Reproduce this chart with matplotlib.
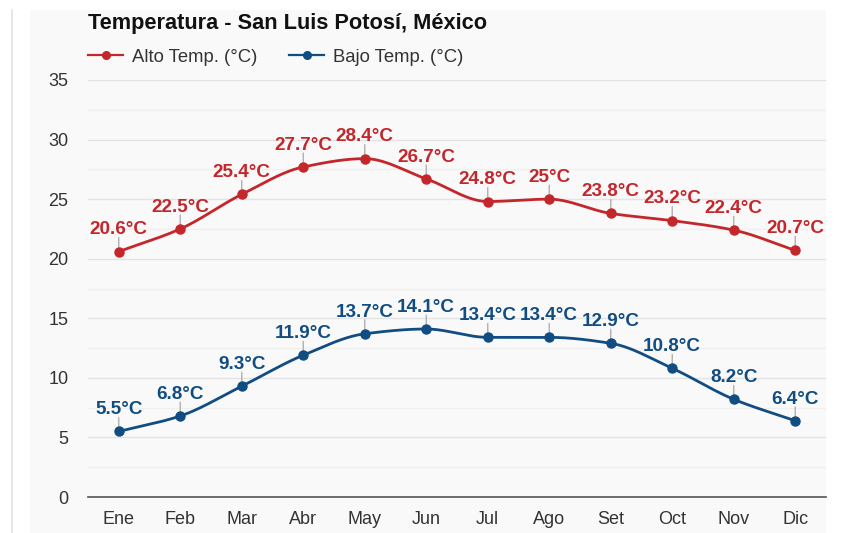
import numpy as np
import matplotlib
matplotlib.use("Agg")
import matplotlib.pyplot as plt
from matplotlib.patches import Rectangle
from matplotlib.lines import Line2D

months = ["Ene", "Feb", "Mar", "Abr", "May", "Jun", "Jul", "Ago", "Set", "Oct", "Nov", "Dic"]
alto = [20.6, 22.5, 25.4, 27.7, 28.4, 26.7, 24.8, 25.0, 23.8, 23.2, 22.4, 20.7]
bajo = [5.5, 6.8, 9.3, 11.9, 13.7, 14.1, 13.4, 13.4, 12.9, 10.8, 8.2, 6.4]
alto_labels = ["20.6°C", "22.5°C", "25.4°C", "27.7°C", "28.4°C", "26.7°C", "24.8°C", "25°C", "23.8°C", "23.2°C", "22.4°C", "20.7°C"]
bajo_labels = ["5.5°C", "6.8°C", "9.3°C", "11.9°C", "13.7°C", "14.1°C", "13.4°C", "13.4°C", "12.9°C", "10.8°C", "8.2°C", "6.4°C"]
yticks = [0, 5, 10, 15, 20, 25, 30, 35]

RED = "#c4262b"
BLUE = "#114c82"

plt.rcParams['font.family'] = ['Liberation Sans', 'DejaVu Sans']


def pchip(x, y, xs):
    x = np.asarray(x, float); y = np.asarray(y, float)
    h = np.diff(x); d = np.diff(y) / h
    n = len(x); m = np.zeros(n)
    for k in range(1, n - 1):
        if d[k - 1] * d[k] <= 0:
            m[k] = 0
        else:
            w1 = 2 * h[k] + h[k - 1]; w2 = h[k] + 2 * h[k - 1]
            m[k] = (w1 + w2) / (w1 / d[k - 1] + w2 / d[k])
    m[0] = d[0]; m[-1] = d[-1]
    out = np.empty_like(xs)
    for i, xv in enumerate(xs):
        k = min(np.searchsorted(x, xv, side='right') - 1, n - 2)
        t = (xv - x[k]) / h[k]
        h00 = 2 * t**3 - 3 * t**2 + 1; h10 = t**3 - 2 * t**2 + t
        h01 = -2 * t**3 + 3 * t**2; h11 = t**3 - t**2
        out[i] = h00 * y[k] + h10 * h[k] * m[k] + h01 * y[k + 1] + h11 * h[k] * m[k + 1]
    return out


W, H = 851, 533
fig = plt.figure(figsize=(W / 100, H / 100), dpi=100)
fig.patch.set_facecolor("white")
fig.add_artist(Rectangle((30 / W, 0), (826 - 30) / W, 1 - 10 / H, transform=fig.transFigure,
                         facecolor="#f8f9f8", edgecolor="none", zorder=0))
fig.add_artist(Line2D([12 / W, 12 / W], [0, 1 - 10 / H], transform=fig.transFigure,
                      color="#e2e2e2", lw=1.2, zorder=1))

ax = fig.add_axes([88 / W, 1 - 497 / H, (826 - 88) / W, (497 - 80) / H])
ax.set_facecolor("none")

x = np.arange(len(months))
xs = np.linspace(0, len(months) - 1, 400)

for vals, labels, col, name in [(alto, alto_labels, RED, "Alto Temp. (°C)"),
                                (bajo, bajo_labels, BLUE, "Bajo Temp. (°C)")]:
    ax.plot(xs, pchip(x, vals, xs), color=col, lw=2, zorder=3, solid_capstyle="round")
    ax.plot(x, vals, 'o', color=col, ms=6.5, zorder=4)
    ax.plot([], [], '-o', color=col, lw=1.6, ms=5.5, label=name)
    for xi, v, lab in zip(x, vals, labels):
        ax.annotate("", xy=(xi, v), xytext=(0, 10), textcoords="offset points",
                    arrowprops=dict(arrowstyle="-", color="#b0b0b0", lw=1, shrinkA=0, shrinkB=3),
                    zorder=2)
        ax.annotate(lab, xy=(xi, v), xytext=(0, 9.5), textcoords="offset points",
                    ha="center", va="bottom", color=col, fontsize=13.6, fontweight="bold", zorder=5)

ax.set_xlim(-0.5, len(months) - 0.5)
ax.set_ylim(0, 35)
ax.set_yticks(yticks)
ax.set_yticks(np.arange(2.5, 35, 5), minor=True)
ax.set_xticks(x)
ax.set_xticklabels(months)
ax.tick_params(axis="both", length=0, labelsize=13, labelcolor="#333333")
ax.tick_params(axis="y", pad=14)
ax.tick_params(axis="x", pad=10)
ax.tick_params(axis="y", which="minor", length=0)
ax.grid(axis="y", which="major", color="#e3e3e3", lw=1)
ax.grid(axis="y", which="minor", color="#efefef", lw=1)
ax.set_axisbelow(True)
for s in ["top", "right", "left"]:
    ax.spines[s].set_visible(False)
ax.spines["bottom"].set_color("#555555")
ax.spines["bottom"].set_linewidth(1.2)

fig.text(88 / W, 1 - 24 / H, "Temperatura - San Luis Potosí, México", fontsize=15.7,
         fontweight="bold", color="#111111", va="center", ha="left")
fig.legend(loc="center left", bbox_to_anchor=(88 / W, 1 - 57 / H), ncol=2, frameon=False,
           fontsize=13.3, handlelength=1.9, handletextpad=0.5, columnspacing=1.7,
           borderaxespad=0, borderpad=0, labelcolor="#333333")

fig.savefig("out.png", dpi=100, facecolor="white")
